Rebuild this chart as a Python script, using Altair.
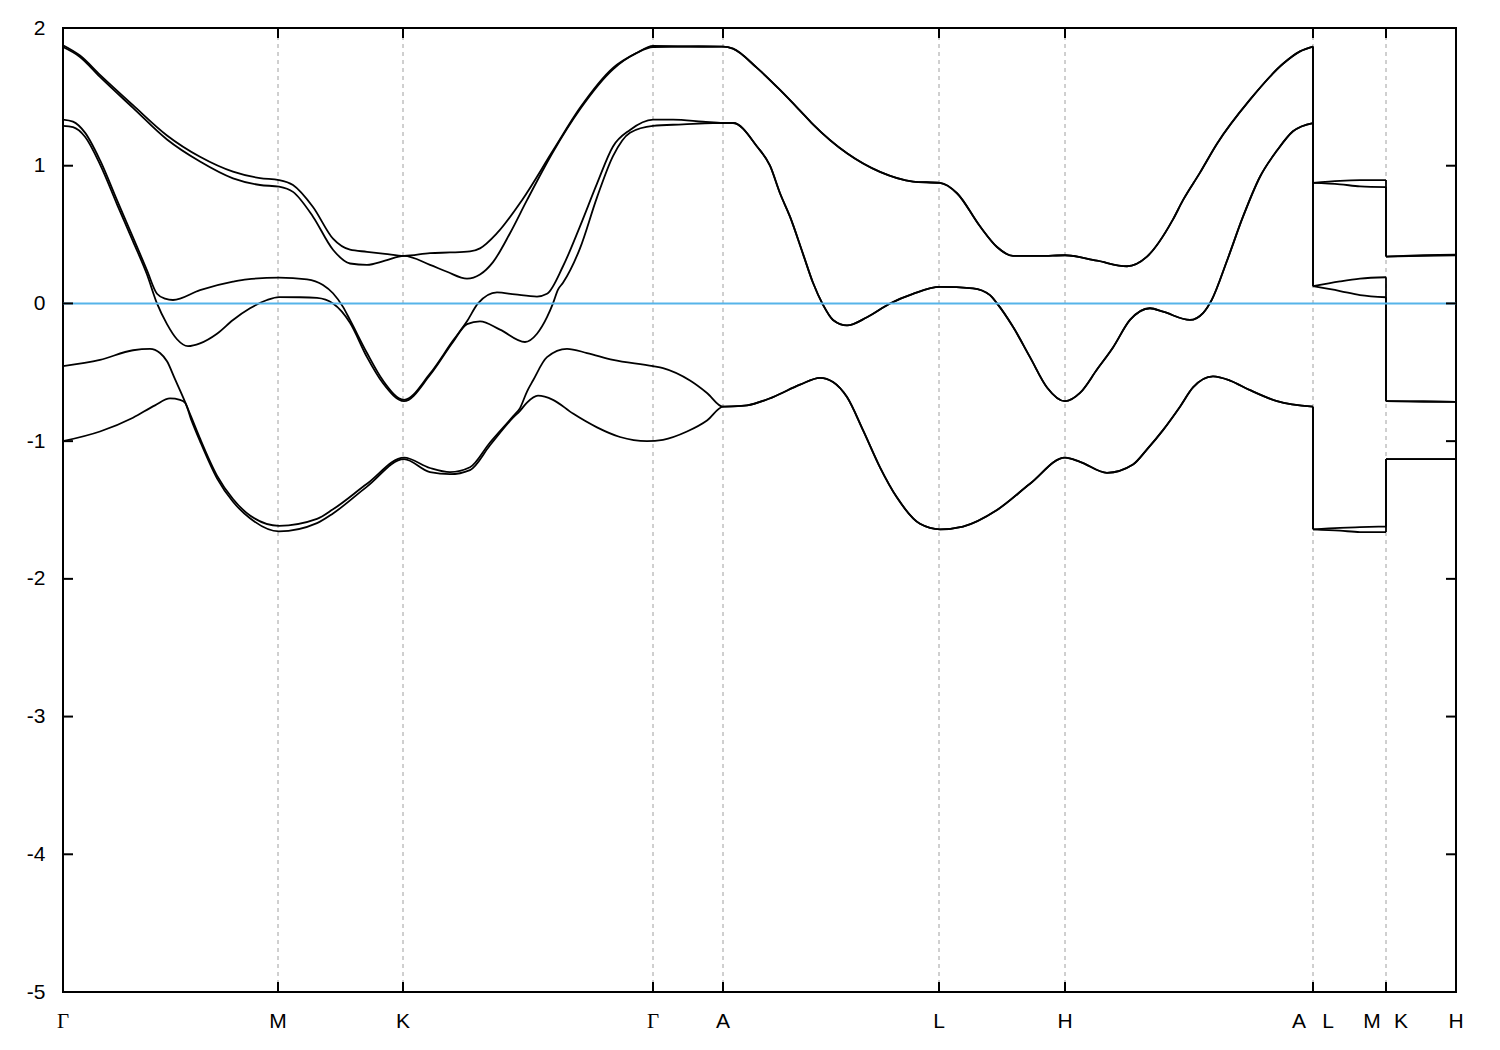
import altair as alt
import pandas as pd

W, H = 1393, 964

# high-symmetry points (k distance) and labels
K_TICKS = [0, 215, 340, 590, 660, 876, 1002, 1250, 1323, 1393]
Y_TICKS = [-5, -4, -3, -2, -1, 0, 1, 2]
XLAB_CENTER_TEXT = ["M", "K", "A", "L", "H", "H"]
XLAB_CENTER_K = [215, 340, 660, 876, 1002, 1393]
XLAB_GREEK_TEXT = ["Γ", "Γ"]
XLAB_GREEK_K = [0, 590]
XLAB_LEFT_TEXT = ["A", "M"]
XLAB_LEFT_K = [1250, 1323]
XLAB_RIGHT_TEXT = ["L", "K"]
XLAB_RIGHT_K = [1250, 1323]

# ---- bands, Gamma -> M -> K -> Gamma -> A
B6_K = [0, 17, 37, 70, 104, 137, 170, 197, 216, 230, 250, 270, 287, 304, 322, 341, 367, 387, 407, 417, 434, 459, 490, 517, 550, 574, 590, 627, 660]
B6_E = [1.875, 1.80, 1.66, 1.44, 1.22, 1.065, 0.957, 0.91, 0.896, 0.86, 0.70, 0.47, 0.39, 0.375, 0.36, 0.345, 0.365, 0.37, 0.378, 0.40, 0.51, 0.75, 1.11, 1.42, 1.71, 1.82, 1.87, 1.868, 1.865]
B5_K = [0, 17, 37, 70, 104, 137, 170, 197, 216, 230, 250, 270, 287, 304, 322, 341, 367, 384, 404, 417, 430, 447, 464, 490, 517, 550, 574, 590, 627, 660]
B5_E = [1.862, 1.79, 1.645, 1.42, 1.19, 1.03, 0.908, 0.86, 0.848, 0.81, 0.63, 0.39, 0.29, 0.28, 0.31, 0.345, 0.28, 0.23, 0.18, 0.21, 0.30, 0.51, 0.75, 1.10, 1.41, 1.70, 1.82, 1.862, 1.863, 1.865]
B4_K = [0, 10, 22, 37, 54, 70, 84, 94, 102, 110, 137, 170, 184, 216, 244, 260, 270, 280, 287, 304, 320, 341, 367, 390, 404, 415, 434, 452, 474, 484, 500, 517, 534, 550, 567, 590, 610, 640, 660]
B4_E = [1.335, 1.32, 1.24, 1.04, 0.75, 0.48, 0.24, 0.07, 0.035, 0.025, 0.097, 0.158, 0.175, 0.187, 0.175, 0.134, 0.074, -0.025, -0.12, -0.36, -0.56, -0.70, -0.51, -0.27, -0.13, 0.0, 0.08, 0.065, 0.05, 0.07, 0.27, 0.56, 0.87, 1.14, 1.26, 1.335, 1.335, 1.32, 1.31]
B3_K = [0, 10, 22, 37, 54, 70, 84, 94, 104, 114, 125, 137, 154, 170, 187, 204, 216, 237, 254, 270, 287, 304, 320, 341, 367, 390, 404, 417, 437, 462, 474, 484, 490, 495, 500, 517, 534, 550, 567, 590, 620, 650, 660]
B3_E = [1.29, 1.28, 1.21, 1.01, 0.72, 0.45, 0.21, 0.0, -0.15, -0.26, -0.31, -0.29, -0.22, -0.12, -0.035, 0.025, 0.046, 0.045, 0.04, 0.0, -0.14, -0.39, -0.58, -0.71, -0.52, -0.28, -0.15, -0.13, -0.19, -0.28, -0.22, -0.10, 0.0, 0.10, 0.15, 0.40, 0.77, 1.07, 1.24, 1.29, 1.30, 1.31, 1.31]
B2_K = [0, 37, 70, 87, 97, 104, 112, 120, 128, 137, 154, 170, 187, 216, 254, 270, 304, 341, 367, 387, 407, 427, 450, 457, 464, 470, 484, 504, 524, 550, 590, 600, 627, 644, 660]
B2_E = [-0.455, -0.41, -0.34, -0.33, -0.36, -0.42, -0.55, -0.68, -0.82, -0.98, -1.25, -1.42, -1.54, -1.615, -1.565, -1.495, -1.31, -1.12, -1.195, -1.225, -1.19, -1.01, -0.82, -0.76, -0.64, -0.56, -0.39, -0.33, -0.36, -0.41, -0.455, -0.47, -0.56, -0.65, -0.75]
B1_K = [0, 37, 70, 92, 107, 117, 122, 128, 137, 154, 170, 187, 216, 254, 270, 304, 341, 367, 387, 407, 427, 450, 457, 464, 475, 490, 510, 534, 557, 584, 600, 624, 644, 660]
B1_E = [-1.0, -0.93, -0.83, -0.74, -0.69, -0.70, -0.72, -0.84, -1.0, -1.27, -1.44, -1.56, -1.655, -1.595, -1.525, -1.33, -1.13, -1.225, -1.24, -1.21, -1.03, -0.83, -0.78, -0.72, -0.67, -0.70, -0.80, -0.90, -0.97, -1.0, -0.99, -0.93, -0.85, -0.75]

# ---- degenerate pairs, A -> L -> H -> A
TOP_K = [660, 670, 694, 717, 737, 750, 784, 817, 850, 877, 894, 917, 934, 950, 977, 1002, 1034, 1064, 1084, 1110, 1120, 1137, 1154, 1187, 1220, 1237, 1250]
TOP_E = [1.865, 1.85, 1.71, 1.55, 1.40, 1.30, 1.09, 0.955, 0.885, 0.875, 0.80, 0.56, 0.41, 0.345, 0.345, 0.35, 0.31, 0.27, 0.34, 0.61, 0.75, 0.95, 1.16, 1.48, 1.74, 1.83, 1.865]
MID_K = [660, 670, 694, 707, 717, 727, 740, 750, 760, 770, 784, 804, 827, 850, 877, 910, 927, 934, 950, 967, 984, 1002, 1017, 1034, 1050, 1067, 1087, 1100, 1127, 1140, 1149, 1164, 1180, 1197, 1214, 1230, 1250]
MID_E = [1.31, 1.31, 1.14, 1.0, 0.80, 0.63, 0.36, 0.15, -0.01, -0.12, -0.16, -0.10, 0.0, 0.07, 0.12, 0.11, 0.06, 0.0, -0.17, -0.39, -0.61, -0.71, -0.65, -0.48, -0.32, -0.12, -0.035, -0.06, -0.12, -0.07, 0.03, 0.31, 0.63, 0.92, 1.11, 1.25, 1.31]
LOW_K = [660, 684, 710, 737, 757, 770, 784, 800, 817, 834, 857, 877, 900, 934, 967, 1002, 1017, 1044, 1070, 1084, 1100, 1117, 1130, 1150, 1167, 1187, 1214, 1250]
LOW_E = [-0.75, -0.74, -0.68, -0.59, -0.54, -0.57, -0.68, -0.92, -1.19, -1.41, -1.60, -1.64, -1.62, -1.50, -1.31, -1.12, -1.15, -1.23, -1.17, -1.06, -0.92, -0.75, -0.61, -0.53, -0.56, -0.63, -0.71, -0.75]

# ---- L -> M
LM_K = [1250, 1277, 1297, 1323]
LM_E6 = [0.875, 0.89, 0.895, 0.896]
LM_E5 = [0.875, 0.865, 0.85, 0.845]
LM_E4 = [0.125, 0.16, 0.18, 0.19]
LM_E3 = [0.125, 0.09, 0.06, 0.045]
LM_E2 = [-1.64, -1.63, -1.625, -1.62]
LM_E1 = [-1.64, -1.65, -1.66, -1.66]

# ---- K -> H
KH_K = [1323, 1360, 1393]
KH_E6 = [0.34, 0.35, 0.355]
KH_E5 = [0.34, 0.345, 0.35]
KH_E4 = [-0.71, -0.712, -0.715]
KH_E3 = [-0.71, -0.712, -0.715]
KH_E2 = [-1.13, -1.13, -1.13]
KH_E1 = [-1.13, -1.13, -1.13]

bands = {
    6: (B6_K + TOP_K[1:], B6_E + TOP_E[1:], LM_E6, KH_E6),
    5: (B5_K + TOP_K[1:], B5_E + TOP_E[1:], LM_E5, KH_E5),
    4: (B4_K + MID_K[1:], B4_E + MID_E[1:], LM_E4, KH_E4),
    3: (B3_K + MID_K[1:], B3_E + MID_E[1:], LM_E3, KH_E3),
    2: (B2_K + LOW_K[1:], B2_E + LOW_E[1:], LM_E2, KH_E2),
    1: (B1_K + LOW_K[1:], B1_E + LOW_E[1:], LM_E1, KH_E1),
}

line_rows, conn_rows = [], []
for b, (mk, me, lme, khe) in bands.items():
    for seg, ks, es in (("a", mk, me), ("b", LM_K, lme), ("c", KH_K, khe)):
        for i, (k, e) in enumerate(zip(ks, es)):
            line_rows.append({"seg": f"{b}{seg}", "k": k, "E": e, "i": i})
    conn_rows.append({"k": LM_K[0], "E": me[-1], "E2": lme[0]})
    conn_rows.append({"k": KH_K[0], "E": lme[-1], "E2": khe[0]})

lines_df = pd.DataFrame(line_rows)
conn_df = pd.DataFrame(conn_rows)
kt_df = pd.DataFrame({"k": K_TICKS[1:-1]})
yt_df = pd.DataFrame({"E": Y_TICKS})
zero_df = pd.DataFrame({"E": [0]})

xscale = alt.Scale(domain=[0, 1393], nice=False, zero=False)
yscale = alt.Scale(domain=[-5, 2], nice=False, zero=False)
X = alt.X("k:Q", scale=xscale, axis=None)
Y = alt.Y("E:Q", scale=yscale,
          axis=alt.Axis(values=Y_TICKS, ticks=False, tickSize=0, domain=False, grid=False,
                        labelFontSize=21, labelPadding=18, labelFont="Liberation Sans",
                        labelColor="black", title=None, labelExpr="datum.value + ''"))

grid = alt.Chart(kt_df).mark_rule(color="#a0a0a0", strokeWidth=1, strokeDash=[4, 4]).encode(
    x=X, y=alt.value(0), y2=alt.value(H))

zero = alt.Chart(zero_df).mark_rule(color="#56b4e9", strokeWidth=2).encode(
    y=Y, x=alt.value(0), x2=alt.value(W))

lines = alt.Chart(lines_df).mark_line(interpolate="monotone", color="black", strokeWidth=1.8).encode(
    x=X, y=Y, detail="seg:N", order="i:Q")

conns = alt.Chart(conn_df).mark_rule(color="black", strokeWidth=1.8).encode(
    x=X, y=Y, y2="E2:Q")

xt_bot = alt.Chart(kt_df).mark_rule(color="black", strokeWidth=2).encode(
    x=X, y=alt.value(H), y2=alt.value(H - 10))
xt_top = alt.Chart(kt_df).mark_rule(color="black", strokeWidth=2).encode(
    x=X, y=alt.value(0), y2=alt.value(10))
yt_left = alt.Chart(yt_df).mark_rule(color="black", strokeWidth=2).encode(
    y=Y, x=alt.value(0), x2=alt.value(10))
yt_right = alt.Chart(yt_df).mark_rule(color="black", strokeWidth=2).encode(
    y=Y, x=alt.value(W - 10), x2=alt.value(W))


def labels(texts, ks, font, dx=0):
    df = pd.DataFrame({"k": ks, "label": texts})
    return alt.Chart(df).mark_text(font=font, fontSize=21, color="black", align="center",
                                   baseline="alphabetic", dx=dx).encode(
        x=X, y=alt.value(H + 36), text="label:N")


lab_c = labels(XLAB_CENTER_TEXT, XLAB_CENTER_K, "Liberation Sans")
lab_g = labels(XLAB_GREEK_TEXT, XLAB_GREEK_K, "Liberation Serif")
lab_l = labels(XLAB_LEFT_TEXT, XLAB_LEFT_K, "Liberation Sans", dx=-14)
lab_r = labels(XLAB_RIGHT_TEXT, XLAB_RIGHT_K, "Liberation Sans", dx=15)

chart = alt.layer(grid, lines, conns, zero, xt_bot, xt_top, yt_left, yt_right,
                  lab_c, lab_g, lab_l, lab_r).properties(
    width=W, height=H,
    background="white",
    autosize=alt.AutoSizeParams(type="none"),
    padding={"left": 55, "top": 20, "right": 20, "bottom": 50},
).configure_view(stroke="black", strokeWidth=2)

chart.save("out.html", embed_options={"renderer": "svg", "actions": False})
